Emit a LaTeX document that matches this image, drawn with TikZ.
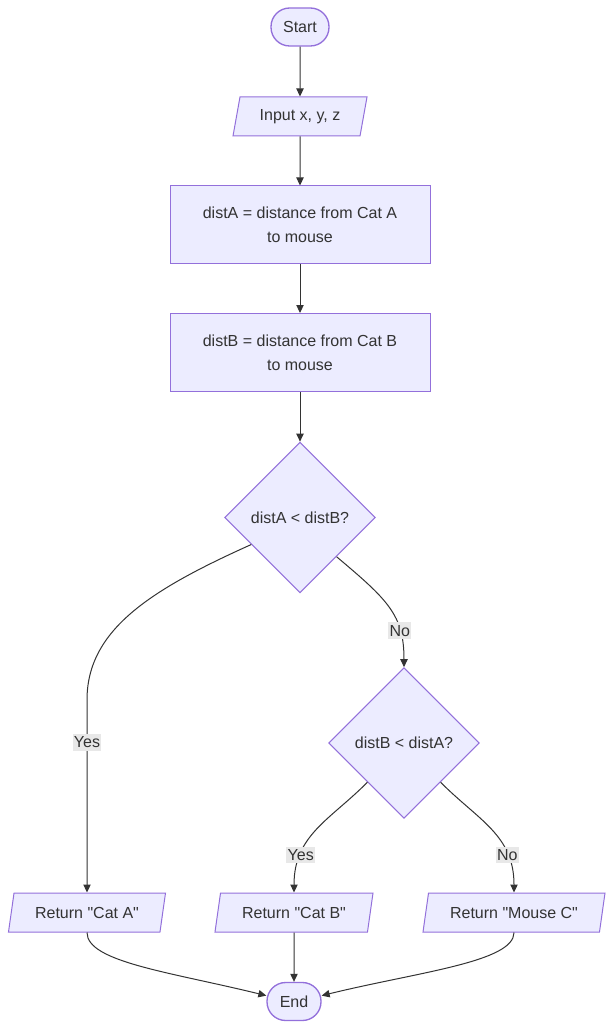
\documentclass[tikz,border=0pt]{standalone}
\usepackage{fontspec}
\setmainfont{Liberation Sans}
\usepackage{tikz}
\usetikzlibrary{arrows.meta,shapes.geometric}
\definecolor{flowFill}{HTML}{ECECFF}
\definecolor{flowLine}{HTML}{9370DB}
\definecolor{flowInk}{HTML}{333333}
\definecolor{flowLabel}{HTML}{E8E8E8}

\begin{document}
\begin{tikzpicture}[x=0.75pt,y=-0.75pt,>={Triangle[length=6pt,width=5.5pt]},font=\fontsize{12}{18}\selectfont,text=flowInk,
  term/.style={draw=flowLine,fill=flowFill,line width=1pt,rounded corners=14pt,minimum width=#1,minimum height=28.5pt,inner sep=0pt},
  io/.style={trapezium,trapezium left angle=64,trapezium right angle=116,trapezium stretches body,draw=flowLine,fill=flowFill,line width=0.75pt,minimum width=#1,minimum height=29.25pt,inner sep=0pt},
  proc/.style={draw=flowLine,fill=flowFill,line width=0.75pt,minimum width=195pt,minimum height=58.5pt,align=center},
  decide/.style={diamond,aspect=1,draw=flowLine,fill=flowFill,line width=0.75pt,minimum width=113pt,minimum height=113pt,inner sep=0pt},
  lbl/.style={fill=flowLabel,inner xsep=1pt,inner ysep=2pt,text=flowInk},
  flow/.style={->,draw=flowInk,line width=0.75pt}
]
  \useasboundingbox (0,0) rectangle (613,1030);

  \node[term=43.5pt] (start) at (300,27) {Start};
  \node[io=100.5pt] (input) at (300,116.5) {Input x, y, z};
  \node[proc] (distA) at (300,225) {distA = distance from Cat A\\to mouse};
  \node[proc] (distB) at (300,352.5) {distB = distance from Cat B\\to mouse};
  \node[decide] (dia1) at (300,517.5) {distA < distB?};
  \node[decide] (dia2) at (404,743) {distB < distA?};

  \node[io=117.75pt] (catA) at (87,912.5) {Return \textquotedbl Cat A\textquotedbl};
  \node[io=118.5pt] (catB) at (294,912.5) {Return \textquotedbl Cat B\textquotedbl};
  \node[io=136.5pt] (mouseC) at (514,912.5) {Return \textquotedbl Mouse C\textquotedbl};
  \node[term=40.5pt] (end) at (294,1001.5) {End};

  \draw[flow] (start) -- (input);
  \draw[flow] (input) -- (distA);
  \draw[flow] (distA) -- (distB);
  \draw[flow] (distB) -- (dia1);

  \draw[flow] (dia1.209) .. controls (150,590) and (87,630) .. (87,700) -- node[lbl,pos=0.22] {Yes} (catA.north);
  \draw[flow] (dia1.-47) .. controls (388,600) and (404,615) .. node[lbl,pos=0.72] {No} (dia2.north);
  \draw[flow] (dia2.227) .. controls (330,820) and (294,835) .. node[lbl,pos=0.74] {Yes} (catB.north);
  \draw[flow] (dia2.-47) .. controls (478,820) and (514,835) .. node[lbl,pos=0.74] {No} (mouseC.north);

  \draw[flow] (catA.south) .. controls (87,962) and (170,972) .. (end.168);
  \draw[flow] (catB.south) -- (end.north);
  \draw[flow] (mouseC.south) .. controls (514,962) and (418,972) .. (end.12);
\end{tikzpicture}
\end{document}
